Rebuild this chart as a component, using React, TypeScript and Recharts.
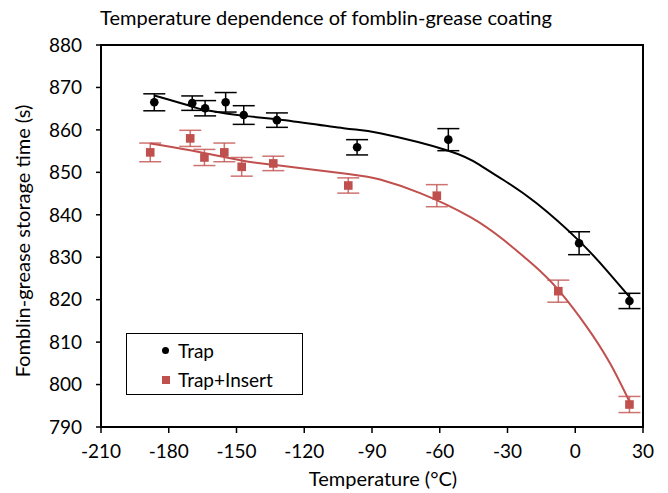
import {
  ComposedChart,
  Scatter,
  Line,
  XAxis,
  YAxis,
  ErrorBar,
  ReferenceArea,
} from "recharts";

const RED = "#C0504D";
const FONT = "Lato, 'Open Sans', sans-serif";

// measured points (temperature °C, storage time s, error s)
const trapTemp = [-186.4, -169.6, -163.9, -154.8, -146.8, -132.1, -96.6, -56.2, 1.7, 24.0];
const trapTime = [866.5, 866.3, 865.1, 866.5, 863.5, 862.3, 855.9, 857.7, 833.3, 819.7];
const trapErr = [2.0, 1.7, 1.8, 2.3, 2.2, 1.7, 1.8, 2.6, 2.7, 1.8];

const insTemp = [-188.2, -170.5, -164.2, -155.4, -147.7, -133.7, -100.5, -61.3, -7.5, 24.0];
const insTime = [854.7, 858.0, 853.5, 854.7, 851.3, 852.1, 846.9, 844.5, 822.0, 795.3];
const insErr = [2.2, 1.9, 1.9, 2.2, 2.2, 1.7, 1.8, 2.6, 2.6, 1.9];

// fitted curves
const trapFitTemp = [-186.4, -169.6, -164, -146.8, -132, -102.6, -86.4, -56.2, -42.2, -31.8, -17.1, 1.8, 13.9, 24.3];
const trapFitTime = [868.1, 865.5, 864.7, 863.3, 862.5, 860.4, 859.2, 855.1, 851.7, 848.2, 842.7, 833.8, 826.9, 820.5];

const insFitTemp = [-188.2, -170.5, -147.7, -133.7, -100.5, -86.4, -68.7, -46.6, -31.8, -18.6, -7.5, 5.1, 15.4, 24];
const insFitTime = [856.8, 855.2, 852.8, 851.8, 849.6, 848.3, 845.1, 839.5, 834.1, 828.2, 822.3, 813.6, 805.0, 796.0];

const xTicks = [-210, -180, -150, -120, -90, -60, -30, 0, 30];
const yTicks = [790, 800, 810, 820, 830, 840, 850, 860, 870, 880];

const trapData = trapTemp.map((t, i) => ({ t, v: trapTime[i], err: trapErr[i] }));
const insData = insTemp.map((t, i) => ({ t, v: insTime[i], err: insErr[i] }));
const trapFit = trapFitTemp.map((t, i) => ({ t, v: trapFitTime[i] }));
const insFit = insFitTemp.map((t, i) => ({ t, v: insFitTime[i] }));

const Dot = (p: any) => <circle cx={p.cx} cy={p.cy} r={4.3} fill="#000" />;
const Sq = (p: any) => (
  <rect x={p.cx - 4.3} y={p.cy - 4.3} width={8.6} height={8.6} fill={RED} />
);

const LegendBox = () => (
  <div
    style={{
      position: "absolute",
      left: 118,
      top: 325,
      width: 177,
      height: 62,
      border: "1.5px solid #000",
      background: "#fff",
      fontFamily: FONT,
      fontSize: 19,
      color: "#000",
      boxSizing: "border-box",
      paddingLeft: 35,
      paddingTop: 2,
      lineHeight: "29px",
    }}
  >
    <div style={{ display: "flex", alignItems: "center" }}>
      <span style={{ width: 7, height: 7, borderRadius: "50%", background: "#000", marginRight: 9 }} />
      Trap
    </div>
    <div style={{ display: "flex", alignItems: "center" }}>
      <span style={{ width: 8, height: 8, background: RED, marginRight: 8 }} />
      Trap+Insert
    </div>
  </div>
);

export default function App() {
  const tick = { fill: "#000", fontSize: 19, fontFamily: FONT };
  return (
    <div style={{ position: "relative", width: 660, height: 485 }}>
      <div
        style={{
          position: "absolute",
          top: -2,
          left: 0,
          width: 636,
          textAlign: "center",
          fontFamily: FONT,
          fontSize: 20,
          lineHeight: "22px",
          color: "#000",
        }}
      >
        Temperature dependence of fomblin-grease coating
      </div>
      <ComposedChart
        width={660}
        height={485}
        margin={{ top: 37, right: 25, left: 0, bottom: 4 }}
      >
        <XAxis
          type="number"
          dataKey="t"
          domain={[-210, 30]}
          ticks={xTicks}
          allowDataOverflow
          height={62}
          tick={tick}
          tickSize={6}
          tickMargin={12}
          axisLine={{ stroke: "#000", strokeWidth: 2 }}
          tickLine={{ stroke: "#000", strokeWidth: 1.5 }}
          label={{
            value: "Temperature (°C)",
            position: "insideBottom",
            offset: 3,
            dx: 11,
            style: { fill: "#000", fontSize: 20, fontFamily: FONT },
          }}
        />
        <YAxis
          type="number"
          dataKey="v"
          domain={[790, 880]}
          ticks={yTicks}
          allowDataOverflow
          width={93}
          tick={tick}
          tickSize={5}
          tickMargin={14}
          axisLine={{ stroke: "#000", strokeWidth: 2 }}
          tickLine={{ stroke: "#000", strokeWidth: 1.5 }}
          label={{
            value: "Fomblin-grease storage time  (s)",
            angle: -90,
            position: "center",
            dx: -32,
            dy: 5,
            style: { fill: "#000", fontSize: 20, fontFamily: FONT },
          }}
        />
        <ReferenceArea
          x1={-210}
          x2={30}
          y1={790}
          y2={880}
          fill="none"
          stroke="#000"
          strokeWidth={2}
          ifOverflow="visible"
        />
        <Line
          data={trapFit}
          dataKey="v"
          type="natural"
          stroke="#000"
          strokeWidth={2}
          dot={false}
          activeDot={false}
          isAnimationActive={false}
        />
        <Line
          data={insFit}
          dataKey="v"
          type="natural"
          stroke={RED}
          strokeWidth={2}
          dot={false}
          activeDot={false}
          isAnimationActive={false}
        />
        <Scatter data={trapData} dataKey="v" name="Trap" shape={Dot} isAnimationActive={false}>
          <ErrorBar dataKey="err" direction="y" width={11} stroke="#000" strokeWidth={1.5} />
        </Scatter>
        <Scatter data={insData} dataKey="v" name="Trap+Insert" shape={Sq} isAnimationActive={false}>
          <ErrorBar dataKey="err" direction="y" width={11} stroke={RED} strokeWidth={1.5} strokeOpacity={0.8} />
        </Scatter>
      </ComposedChart>
      <LegendBox />
    </div>
  );
}
